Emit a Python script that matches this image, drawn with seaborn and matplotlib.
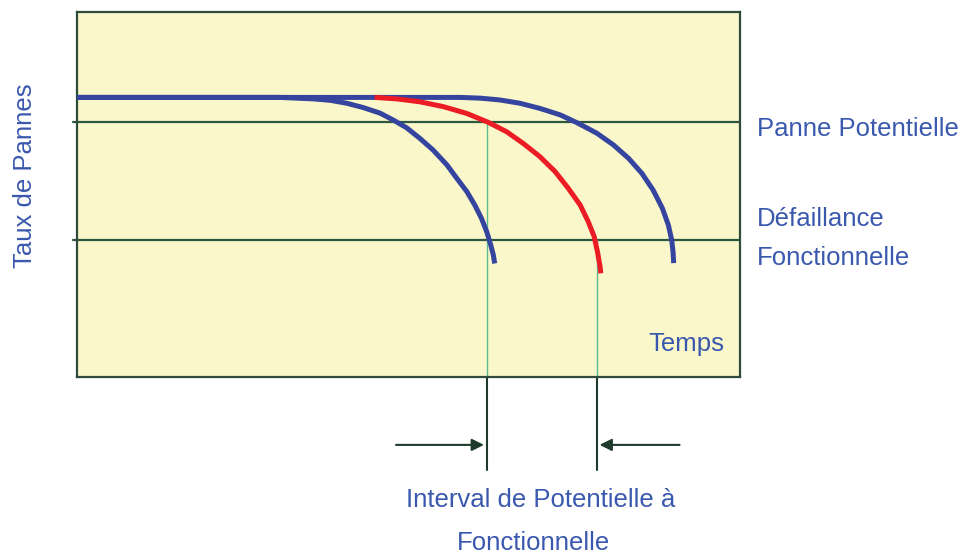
import matplotlib
matplotlib.use("Agg")
import matplotlib.pyplot as plt
import seaborn as sns

# courbes (temps 0-100, taux 0-100)
bleu1_t = [0, 30.6, 35.6, 38.2, 40.7, 43.2, 45.7, 47.7, 49.7, 51.7, 53.7, 55.8,
           57.3, 58.8, 60.0, 61.0, 61.8, 62.4, 62.8, 63.0]
bleu1_y = [76.6, 76.6, 76.2, 75.8, 75.0, 73.8, 72.3, 70.4, 68.3, 65.4, 62.2, 58.1,
           54.4, 50.8, 47.1, 43.5, 39.8, 36.2, 33.4, 31.1]

rouge_t = [44.9, 48.2, 51.7, 55.2, 58.8, 62.0, 64.8, 67.3, 69.8, 72.1, 74.1, 75.9,
           77.1, 78.0, 78.5, 78.9, 79.0]
rouge_y = [76.6, 76.2, 75.4, 74.1, 72.2, 69.8, 67.2, 64.0, 60.4, 56.3, 51.7, 47.1,
           42.6, 38.5, 34.3, 30.2, 28.4]

bleu2_t = [0, 57.8, 60.8, 63.8, 66.8, 69.8, 72.9, 75.6, 78.4, 80.9, 83.2, 85.2,
           86.9, 88.3, 89.2, 89.7, 89.9, 90.0]
bleu2_y = [76.6, 76.6, 76.4, 75.9, 75.0, 73.6, 71.8, 69.5, 66.8, 63.6, 59.9, 55.8,
           51.2, 46.2, 41.6, 37.5, 34.3, 31.2]

niveau_potentielle = 70.0
niveau_fonctionnelle = 37.5
t_potentielle = 61.8
t_fonctionnelle = 78.4

BLEU = "#35459F"
ROUGE = "#EC1C24"
VERT = "#2E5640"
VERT_CLAIR = "#5DBB8F"
TEXTE = "#3A58AE"

sns.set_style("white")
plt.rcParams["font.family"] = ["Liberation Sans", "DejaVu Sans"]

fig = plt.figure(figsize=(9.6, 5.6), dpi=100)
ax = fig.add_axes([77 / 960, 183 / 560, 663 / 960, 365 / 560])
ax.set_facecolor("#FAF7CB")
ax.set_xlim(0, 100)
ax.set_ylim(0, 100)
ax.set_xticks([])
ax.set_yticks([])
for s in ax.spines.values():
    s.set_color("#2E4B3B")
    s.set_linewidth(1.6)

# seuils
for niv in (niveau_potentielle, niveau_fonctionnelle):
    ax.plot([-0.6, 100], [niv, niv], color=VERT, lw=1.6, zorder=2, clip_on=False)

# lignes verticales vertes
ax.plot([t_potentielle, t_potentielle], [0, niveau_potentielle], color=VERT_CLAIR, lw=1, zorder=2)
ax.plot([t_fonctionnelle, t_fonctionnelle], [0, niveau_fonctionnelle], color=VERT_CLAIR, lw=1, zorder=2)

kw = dict(sort=False, estimator=None, ax=ax, lw=3.6, legend=False)
sns.lineplot(x=bleu1_t, y=bleu1_y, color=BLEU, zorder=3, **kw)
sns.lineplot(x=bleu2_t, y=bleu2_y, color=BLEU, zorder=3, **kw)
sns.lineplot(x=rouge_t, y=rouge_y, color=ROUGE, zorder=4, **kw)
for l in ax.lines[-3:]:
    l.set_solid_capstyle("butt")
    l.set_solid_joinstyle("round")

# intervalle P-F sous le graphique
for t in (t_potentielle, t_fonctionnelle):
    ax.plot([t, t], [0, -25.5], color="#1E3A2A", lw=1.5, clip_on=False)
ax.annotate("", xy=(t_potentielle, -18.6), xytext=(47.7, -18.6),
            arrowprops=dict(arrowstyle="-|>", color="#1E3A2A", lw=1.5, mutation_scale=18),
            annotation_clip=False)
ax.annotate("", xy=(t_fonctionnelle, -18.6), xytext=(91.3, -18.6),
            arrowprops=dict(arrowstyle="-|>", color="#1E3A2A", lw=1.5, mutation_scale=18),
            annotation_clip=False)

fs = 18.5
ax.text(102.6, 67.9, "Panne Potentielle", color=TEXTE, fontsize=fs, va="center", clip_on=False)
ax.text(102.6, 43.3, "Défaillance", color=TEXTE, fontsize=fs, va="center", clip_on=False)
ax.text(102.6, 32.6, "Fonctionnelle", color=TEXTE, fontsize=fs, va="center", clip_on=False)
ax.text(97.7, 9.0, "Temps", color=TEXTE, fontsize=fs, va="center", ha="right")
ax.text(-7.8, 55.1, "Taux de Pannes", color=TEXTE, fontsize=fs, va="center", ha="center",
        rotation=90, clip_on=False)
ax.text(70.0, -33.7, "Interval de Potentielle à", color=TEXTE, fontsize=fs, va="center",
        ha="center", clip_on=False)
ax.text(68.8, -45.5, "Fonctionnelle", color=TEXTE, fontsize=fs, va="center", ha="center",
        clip_on=False)

fig.savefig("out.png", dpi=100, facecolor="white")
